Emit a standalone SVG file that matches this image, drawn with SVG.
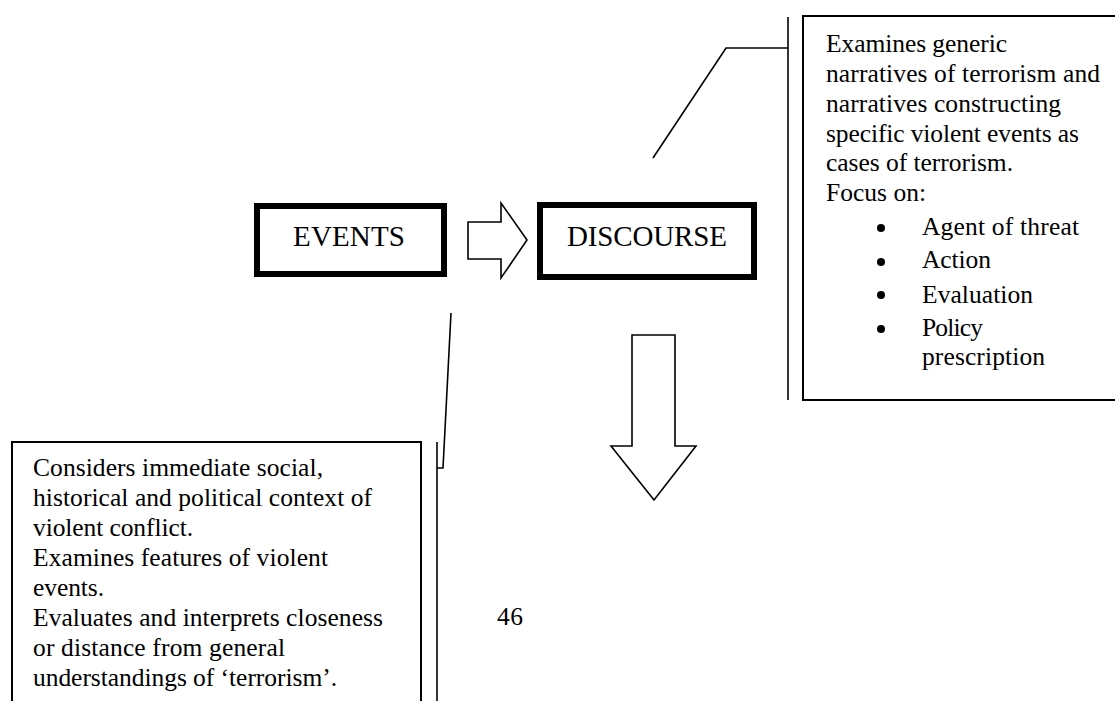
<svg xmlns="http://www.w3.org/2000/svg" width="1115" height="701" viewBox="0 0 1115 701">
  <style>
    text { font-family: "Liberation Serif", "Times New Roman", serif; fill: #000; }
    .body { font-size: 25.5px; }
    .title { font-size: 29px; }
    .heavy { fill: #fff; stroke: #000; stroke-width: 6; }
    .note { fill: #fff; stroke: #000; stroke-width: 2; }
    .thin { fill: none; stroke: #000; stroke-width: 1.6; }
    .arrow { fill: #fff; stroke: #000; stroke-width: 1.6; stroke-linejoin: miter; }
  </style>
  <rect width="1115" height="701" fill="#fff"/>

  <!-- connectors: callout leaders and block arrows -->
  <g id="connectors">
    <polyline class="thin" points="653,158 726,48 788,48"/>
    <line class="thin" x1="788" y1="17" x2="788" y2="400"/>
    <polyline class="thin" points="451,313 443,468 437,468"/>
    <line class="thin" x1="437" y1="442" x2="437" y2="705"/>
    <polygon class="arrow" points="468,222 501,222 501,203 527,240 501,278 501,259 468,259"/>
    <polygon class="arrow" points="632,335 675,335 675,446 696,446 654,500 611,446 632,446"/>
  </g>

  <g id="events">
    <rect class="heavy" x="257" y="206" width="187" height="68"/>
    <text class="title" x="293" y="246" textLength="112">EVENTS</text>
  </g>

  <g id="discourse">
    <rect class="heavy" x="540" y="205" width="214" height="72"/>
    <text class="title" x="567" y="246" textLength="160">DISCOURSE</text>
  </g>

  <g id="discourse-note">
    <rect class="note" x="803" y="16" width="330" height="384"/>
    <text class="body" x="826" y="52" textLength="181">Examines generic</text>
    <text class="body" x="826" y="82" textLength="274">narratives of terrorism and</text>
    <text class="body" x="826" y="112" textLength="235">narratives constructing</text>
    <text class="body" x="826" y="142" textLength="253">specific violent events as</text>
    <text class="body" x="826" y="171" textLength="187">cases of terrorism.</text>
    <text class="body" x="826" y="201" textLength="100">Focus on:</text>
    <circle cx="881" cy="228" r="4"/>
    <circle cx="881" cy="262" r="4"/>
    <circle cx="881" cy="295" r="4"/>
    <circle cx="881" cy="329" r="4"/>
    <text class="body" x="922" y="235" textLength="157">Agent of threat</text>
    <text class="body" x="922" y="268" textLength="69">Action</text>
    <text class="body" x="922" y="303" textLength="111">Evaluation</text>
    <text class="body" x="922" y="336" textLength="61">Policy</text>
    <text class="body" x="922" y="365" textLength="123">prescription</text>
  </g>

  <g id="events-note">
    <rect class="note" x="12" y="442" width="409" height="280"/>
    <text class="body" x="33" y="476" textLength="290">Considers immediate social,</text>
    <text class="body" x="33" y="506" textLength="339">historical and political context of</text>
    <text class="body" x="33" y="536" textLength="160">violent conflict.</text>
    <text class="body" x="33" y="566" textLength="295">Examines features of violent</text>
    <text class="body" x="33" y="596" textLength="71">events.</text>
    <text class="body" x="33" y="626" textLength="350">Evaluates and interprets closeness</text>
    <text class="body" x="33" y="656" textLength="252">or distance from general</text>
    <text class="body" x="33" y="686" textLength="304">understandings of ‘terrorism’.</text>
  </g>

  <text class="body" x="497" y="625" textLength="26">46</text>
</svg>
